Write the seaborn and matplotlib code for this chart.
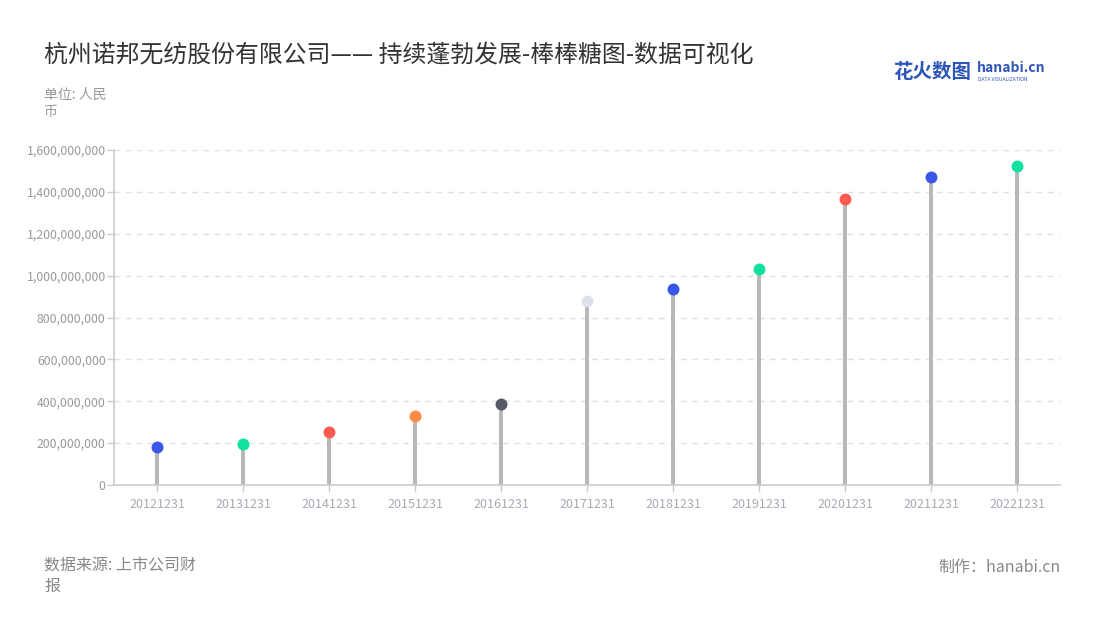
import matplotlib
matplotlib.use("Agg")
import matplotlib.pyplot as plt
import seaborn as sns
import pandas as pd
from matplotlib.ticker import FuncFormatter

years = ["20121231", "20131231", "20141231", "20151231", "20161231", "20171231",
         "20181231", "20191231", "20201231", "20211231", "20221231"]
values = [181e6, 196e6, 253e6, 330e6, 387e6, 879e6, 936e6, 1032e6, 1366e6, 1471e6, 1524e6]
dot_colors = ["#3a56e8", "#10e0a0", "#ff5a50", "#ff8a48", "#555963", "#dde1ea",
              "#3a56e8", "#10e0a0", "#ff5a50", "#3a56e8", "#10e0a0"]
yticks = [0, 200e6, 400e6, 600e6, 800e6, 1000e6, 1200e6, 1400e6, 1600e6]

title = "杭州诺邦无纺股份有限公司—— 持续蓬勃发展-棒棒糖图-数据可视化"
unit_text = "单位: 人民\n币"
source_text = "数据来源: 上市公司财\n报"
maker_text = "制作：hanabi.cn"

df = pd.DataFrame({"year": years, "value": values})

sns.set_theme(style="white")
plt.rcParams['font.family'] = ['Noto Sans CJK SC', 'DejaVu Sans']

fig = plt.figure(figsize=(11, 6.2), dpi=100)
ax = fig.add_axes([114/1100, (620-485)/620, (1060-114)/1100, (485-150)/620])

sns.barplot(data=df, x="year", y="value", color="#b8b8b8", width=0.055,
            saturation=1, ax=ax, edgecolor="none")
sns.stripplot(data=df, x="year", y="value", hue="year",
              palette=dict(zip(years, dot_colors)), jitter=False, size=8.6,
              linewidth=0, legend=False, ax=ax, zorder=5)

ax.set_xlim(-0.5, len(years) - 0.5)
ax.set_ylim(0, 1600e6)
ax.set_yticks(yticks)
ax.yaxis.set_major_formatter(FuncFormatter(lambda v, p: f"{int(v):,}"))
ax.set_xlabel("")
ax.set_ylabel("")

ax.grid(axis="y", color="#e0e0e0", linestyle=(0, (4, 4)), linewidth=1)
ax.set_axisbelow(True)
for s in ["top", "right"]:
    ax.spines[s].set_visible(False)
for s in ["left", "bottom"]:
    ax.spines[s].set_color("#cccccc")
    ax.spines[s].set_linewidth(1.2)

ax.tick_params(axis="y", colors="#cccccc", labelcolor="#999999", labelsize=8.8,
               length=5, width=1, left=True, pad=1)
ax.tick_params(axis="x", colors="#cccccc", labelcolor="#a6aab5", labelsize=9,
               length=5, width=1, bottom=True, pad=4)

fig.text(44/1100, 1 - 55/620, title, fontsize=17.2, color="#333333", va="center", ha="left")
fig.text(44/1100, 1 - 88/620, unit_text, fontsize=10, color="#999999", va="top",
         ha="left", linespacing=1.25)
fig.text(44/1100, 1 - 557/620, source_text, fontsize=11.5, color="#888888", va="top",
         ha="left", linespacing=1.3)
fig.text(1061/1100, 1 - 567/620, maker_text, fontsize=11.5, color="#888888", va="center",
         ha="right")

# logo
fig.text(893/1100, 1 - 72/620, "花火数图", fontsize=14, color="#2e55b8", va="center",
         ha="left", fontweight="bold")
fig.text(977/1100, 1 - 68/620, "hanabi.cn", fontsize=10, color="#2e55b8", va="center",
         ha="left", fontweight="bold")
fig.text(978/1100, 1 - 79.5/620, "DATA VISUALIZATION", fontsize=3.6, color="#2e55b8",
         va="center", ha="left")

fig.savefig("out.png", dpi=100, facecolor="white")
